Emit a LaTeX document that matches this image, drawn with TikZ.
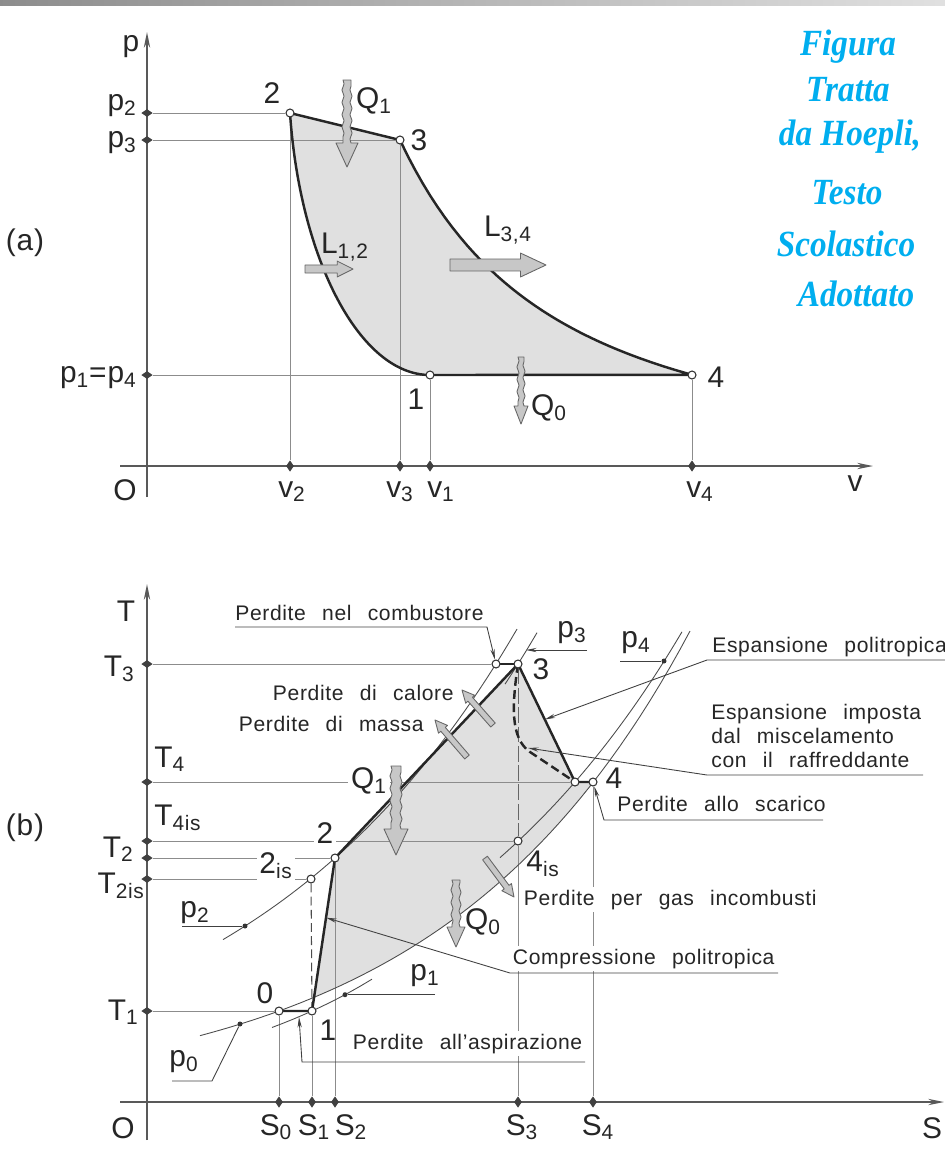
\documentclass[tikz,border=0pt]{standalone}
\usepackage{fontspec}
\setmainfont{Liberation Sans}[WordSpace=2.5,LetterSpace=3]
\newfontfamily\wmfont{Liberation Serif}[UprightFont=* Bold Italic, BoldFont=* Bold Italic, ItalicFont=* Bold Italic, BoldItalicFont=* Bold Italic, FakeStretch=0.9]
\usetikzlibrary{arrows.meta, calc, shapes.geometric, decorations.pathmorphing}
\definecolor{WmBlue}{HTML}{00AEEF}
\definecolor{AreaGray}{HTML}{E0E0E0}
\pgfdeclarelayer{back}
\pgfdeclarelayer{front}
\pgfsetlayers{back,main,front}
\newcommand{\ix}[1]{\textsubscript{#1}}
% block arrow: tail, tip, shaft half width, head half width, head length
\newcommand{\blockarr}[5]{%
  \coordinate (neck) at ($(#2)!#5!(#1)$);
  \draw[barrow] ($(#1)!#3!90:(#2)$) -- ($(neck)!#3!-90:(#1)$) -- ($(neck)!#4!-90:(#1)$)
    -- (#2) -- ($(neck)!#4!90:(#1)$) -- ($(neck)!#3!90:(#1)$) -- ($(#1)!#3!-90:(#2)$) -- cycle;}
% wavy heat arrow: x, y top, y tip, shaft half width, head half width, head length
\newcommand{\heatarr}[6]{%
  \draw[barrow] ({#1-#4},#2) decorate[decoration={snake,amplitude=0.6pt,segment length=7pt}]{-- ({#1-#4},{#3-#6})}
    -- ({#1-#5},{#3-#6}) -- (#1,#3) -- ({#1+#5},{#3-#6}) -- ({#1+#4},{#3-#6})
    decorate[decoration={snake,amplitude=0.6pt,segment length=7pt}]{-- ({#1+#4},#2)} -- cycle;}

\begin{document}
\begin{tikzpicture}[x=0.02cm, y=-0.02cm,
    axis/.style={draw=black!65, line width=0.8pt},
    thinline/.style={draw=black!45, line width=0.45pt},
    isobar/.style={draw=black!70, line width=0.5pt},
    thickline/.style={draw=black!85, line width=1.4pt, line join=round},
    thickdash/.style={draw=black!85, line width=1.4pt, dash pattern=on 5pt off 2.5pt},
    dashline/.style={draw=black!70, line width=0.6pt, dash pattern=on 5pt off 2.5pt},
    longdash/.style={draw=black!60, line width=0.5pt, dash pattern=on 9pt off 2pt},
    leader/.style={draw=black!75, line width=0.5pt, -{Stealth[length=6pt,width=2.4pt]}},
    plainleader/.style={draw=black!75, line width=0.5pt},
    barrow/.style={draw=black!60, fill=black!22, line width=0.5pt, line join=round},
    pt/.style={circle, draw=black!80, fill=white, line width=0.6pt, inner sep=0pt, minimum size=1.6mm},
    dot/.style={circle, fill=black!80, inner sep=0pt, minimum size=1mm},
    vmark/.style={diamond, fill=black!75, inner sep=0pt, minimum width=2.3mm, minimum height=1.6mm},
    hmark/.style={diamond, fill=black!75, inner sep=0pt, minimum width=1.6mm, minimum height=2.3mm},
    bigl/.style={font=\fontsize{17}{19}\selectfont, text=black!85, inner sep=0pt},
    note/.style={font=\fontsize{12}{13.5}\selectfont, text=black!85, inner sep=0pt},
    gap/.style={fill=white, inner sep=1.5pt},
    wm/.style={font=\wmfont\fontsize{21}{24}\selectfont, text=WmBlue, anchor=base}
  ]
  \useasboundingbox (0,0) rectangle (945,1171);
  \shade[left color=black!45, right color=black!12] (0,0) rectangle (945,5);

  % Nodes
  \begin{pgfonlayer}{front}
    % (a) p-v
    \node[pt] (a1) at (430,375) {};
    \node[pt] (a2) at (290,113) {};
    \node[pt] (a3) at (400,140) {};
    \node[pt] (a4) at (692,375) {};
    \node[vmark] (pa2) at (147,113) {};
    \node[vmark] (pa3) at (147,140) {};
    \node[vmark] (pa1) at (147,375) {};
    \node[hmark] (va2) at (290,466) {};
    \node[hmark] (va3) at (400,466) {};
    \node[hmark] (va1) at (430,466) {};
    \node[hmark] (va4) at (692,466) {};
    % (b) T-S
    \node[pt] (b0) at (279,1011) {};
    \node[pt] (b1) at (312,1011) {};
    \node[pt] (b2is) at (311,879) {};
    \node[pt] (b2) at (335,858) {};
    \node[pt] (b3p) at (496,664) {};
    \node[pt] (b3) at (518,664) {};
    \node[pt] (b4) at (575,782) {};
    \node[pt] (b4p) at (593,782) {};
    \node[pt] (b4is) at (518,841) {};
    \node[vmark] (t3) at (147,664) {};
    \node[vmark] (t4) at (147,782) {};
    \node[vmark] (t4is) at (147,841) {};
    \node[vmark] (t2) at (147,858) {};
    \node[vmark] (t2is) at (147,879) {};
    \node[vmark] (t1) at (147,1011) {};
    \node[hmark] (s0) at (279,1102) {};
    \node[hmark] (s1) at (312,1102) {};
    \node[hmark] (s2) at (335,1102) {};
    \node[hmark] (s3) at (518,1102) {};
    \node[hmark] (s4) at (593,1102) {};
  \end{pgfonlayer}

  \begin{pgfonlayer}{back}
    \fill[AreaGray] (a2.center) -- (a3.center)
      -- plot[domain=253:545, samples=40] ({147+\x},{466-326*(253/\x)^1.66})
      -- (a1.center) .. controls (360,375) and (300,260) .. (a2.center) -- cycle;
    \fill[AreaGray] (314.2,997) -- (b2.center) -- (b3.center) -- (b4.center) -- (b4p.center)
      -- plot[domain=593:314.2, samples=30] ({\x},{1102-91*exp((\x-279)/250)}) -- cycle;
  \end{pgfonlayer}

  % Axes
  \coordinate (pTop) at (147,32);
  \coordinate (pBot) at (147,497);
  \coordinate (vLeft) at (120,466);
  \coordinate (vEnd) at (873,466);
  \draw[axis, -{Stealth[length=9pt,width=3.6pt]}] (pBot) -- (pTop);
  \draw[axis, -{Stealth[length=9pt,width=3.6pt]}] (vLeft) -- (vEnd);
  \coordinate (tTop) at (147,584);
  \coordinate (tBot) at (147,1140);
  \coordinate (sLeft) at (120,1102);
  \coordinate (sEnd) at (944,1102);
  \draw[axis, -{Stealth[length=9pt,width=3.6pt]}] (tBot) -- (tTop);
  \draw[axis, -{Stealth[length=9pt,width=3.6pt]}] (sLeft) -- (sEnd);

  % Connectors (a)
  \draw[thinline] (pa2) -- (a2);
  \draw[thinline] (pa3) -- (a3);
  \draw[thinline] (pa1) -- (a1);
  \draw[thinline] (va2) -- (a2);
  \draw[thinline] (va3) -- (a3);
  \draw[thinline] (va1) -- (a1);
  \draw[thinline] (va4) -- (a4);
  \draw[thickline] (a2.center) -- (a3.center)
    -- plot[domain=253:545, samples=40] ({147+\x},{466-326*(253/\x)^1.66})
    -- (a1.center) .. controls (360,375) and (300,260) .. (a2.center);

  % Connectors (b)
  \draw[thinline] (t3) -- (b3p);
  \draw[thinline] (t4) -- (b4);
  \draw[thinline] (t4is) -- (b4is);
  \draw[thinline] (t2) -- (b2);
  \draw[thinline] (t2is) -- (b2is);
  \draw[thinline] (t1) -- (b0);
  \draw[thinline] (s0) -- (b0);
  \draw[thinline] (s1) -- (b1);
  \draw[thinline] (s2) -- (b2);
  \draw[thinline] (s3) -- (b4is);
  \draw[thinline] (s4) -- (b4p);
  \draw[longdash] (b3) -- (b4is);
  \draw[dashline] (b2is) -- (b1);
  % isobars
  \draw[isobar] plot[domain=223:517, samples=40] ({\x},{1102-244*exp((\x-335)/275)});
  \draw[isobar] plot[domain=505:537, samples=10] ({\x},{1102-438*exp((\x-518)/275)});
  \draw[isobar] plot[domain=500:682, samples=30] ({\x},{1102-320*exp((\x-575)/278)});
  \draw[isobar] plot[domain=200:690, samples=50] ({\x},{1102-91*exp((\x-279)/250)});
  \draw[isobar] plot[domain=272:372, samples=10] ({\x},{1102-91*exp((\x-312)/200)});
  % cycle
  \draw[thickline] (b0.center) -- (b1.center) -- (b2.center) -- (b3.center) -- (b4.center) -- (b4p.center);
  \draw[thickline] (b3p.center) -- (b3.center);
  \draw[thickdash] (b3.center) .. controls (512,705) and (510,738) .. (530,752) -- (b4.center);

  % Labels (a)
  \node[bigl] (lp) at (131,47) {p};
  \node[bigl, anchor=east] (lp2) at (137,106) {p\ix{2}};
  \node[bigl, anchor=east] (lp3) at (137,143) {p\ix{3}};
  \node[bigl, anchor=east] (lp14) at (137,378) {p\ix{1}=p\ix{4}};
  \node[bigl] (lO) at (125,490) {O};
  \node[bigl] (lv) at (855,484) {v};
  \node[bigl, anchor=north] (lv2) at (292,481) {v\ix{2}};
  \node[bigl, anchor=north] (lv3) at (400,481) {v\ix{3}};
  \node[bigl, anchor=north] (lv1) at (441,481) {v\ix{1}};
  \node[bigl, anchor=north] (lv4) at (700,481) {v\ix{4}};
  \node[bigl] (l2) at (272,93) {2};
  \node[bigl] (l3) at (419,140) {3};
  \node[bigl] (l1) at (416,399) {1};
  \node[bigl] (l4) at (716,377) {4};
  \node[bigl] (lq1) at (374,101) {Q\ix{1}};
  \node[bigl] (ll12) at (345,247) {L\ix{1,2}};
  \node[bigl] (ll34) at (508,230) {L\ix{3,4}};
  \node[bigl] (lq0) at (549,408) {Q\ix{0}};
  \node[bigl] (la) at (25,243) {(a)};
  \coordinate (l12t) at (305,269);
  \coordinate (l12h) at (353,269);
  \coordinate (l34t) at (450,265);
  \coordinate (l34h) at (546,265);
  \blockarr{l12t}{l12h}{2.3pt}{4.5pt}{9pt}
  \blockarr{l34t}{l34h}{3.4pt}{6.8pt}{14.5pt}
  \heatarr{347}{80}{167}{4}{11}{24}
  \heatarr{521}{357}{424}{3}{7}{18}

  % Labels (b)
  \node[bigl] (lT) at (126,611) {T};
  \node[bigl, anchor=east] (lT3) at (135,669) {T\ix{3}};
  \node[bigl, anchor=west] (lT4) at (154,759) {T\ix{4}};
  \node[bigl, anchor=west] (lT4is) at (154,818) {T\ix{4is}};
  \node[bigl, anchor=east] (lT2) at (134,849) {T\ix{2}};
  \node[bigl, anchor=east] (lT2is) at (145,886) {T\ix{2is}};
  \node[bigl, anchor=east] (lT1) at (139,1012) {T\ix{1}};
  \node[bigl] (lO2) at (123,1128) {O};
  \node[bigl] (lS) at (932,1128) {S};
  \node[bigl, anchor=north] (lS0) at (276,1114) {S\ix{0}};
  \node[bigl, anchor=north] (lS1) at (314,1114) {S\ix{1}};
  \node[bigl, anchor=north] (lS2) at (351,1114) {S\ix{2}};
  \node[bigl, anchor=north] (lS3) at (522,1114) {S\ix{3}};
  \node[bigl, anchor=north] (lS4) at (598,1114) {S\ix{4}};
  \node[bigl] (m0) at (265,993) {0};
  \node[bigl] (m1) at (328,1030) {1};
  \node[bigl, gap] (m2) at (325,833) {2};
  \node[bigl, gap] (m2is) at (276,866) {2\ix{is}};
  \node[bigl] (m3) at (541,669) {3};
  \node[bigl] (m4) at (614,778) {4};
  \node[bigl] (m4is) at (543,864) {4\ix{is}};
  \node[bigl, gap] (mq1) at (369,781) {Q\ix{1}};
  \node[bigl] (mq0) at (483,922) {Q\ix{0}};
  \node[bigl] (mp2) at (195,913) {p\ix{2}};
  \node[bigl] (mp3) at (572,633) {p\ix{3}};
  \node[bigl] (mp4) at (636,643) {p\ix{4}};
  \node[bigl] (mp1) at (425,976) {p\ix{1}};
  \node[bigl] (mp0) at (184,1062) {p\ix{0}};
  \node[bigl] (lb) at (25,828) {(b)};

  \node[note, anchor=base west] (ncomb) at (235,620) {Perdite nel combustore};
  \node[note, anchor=base east] (ncal) at (454,700) {Perdite di calore};
  \node[note, anchor=base east] (nmas) at (424,731) {Perdite di massa};
  \node[note, anchor=base west] (npol) at (712,652) {Espansione politropica};
  \node[note, anchor=north west, align=left] (nmix) at (711,704) {Espansione imposta\\dal miscelamento\\con il raffreddante};
  \node[note, anchor=base west] (nsca) at (617,811) {Perdite allo scarico};
  \node[note, gap, anchor=base west] (ngas) at (521,905) {Perdite per gas incombusti};
  \node[note, gap, anchor=base west] (ncom) at (510,964) {Compressione politropica};
  \node[note, gap, anchor=base west] (nasp) at (350,1049) {Perdite all’aspirazione};

  % dots on isobars
  \node[dot] (dp2) at (245,926) {};
  \node[dot] (dp4) at (664,661) {};
  \node[dot] (dp1) at (345,994.7) {};
  \node[dot] (dp0) at (240,1024) {};

  % Connectors (leaders)
  \coordinate (ucA) at (235,627);
  \coordinate (ucB) at (487,627);
  \draw[leader] (ucA) -- (ucB) -- (b3p);
  \coordinate (up3A) at (587,650);
  \coordinate (tipP3) at (526,650);
  \draw[leader] (up3A) -- (tipP3);
  \coordinate (upA) at (945,660);
  \coordinate (upB) at (707,660);
  \coordinate (tipE) at ($(b3)!0.47!(b4)$);
  \draw[leader] (upA) -- (upB) -- (tipE);
  \coordinate (umA) at (923,775);
  \coordinate (umB) at (707,775);
  \coordinate (tipM) at (528,748);
  \draw[leader] (umA) -- (umB) -- (tipM);
  \coordinate (usA) at (823,820);
  \coordinate (usB) at (604,820);
  \draw[leader] (usA) -- (usB) -- (b4p);
  \coordinate (ukA) at (778,973);
  \coordinate (ukB) at (510,973);
  \coordinate (tipK) at ($(b1)!0.61!(b2)$);
  \draw[leader] (ukA) -- (ukB) -- (tipK);
  \coordinate (uaA) at (585,1062);
  \coordinate (uaB) at (302,1062);
  \coordinate (tipA) at (299,1017);
  \draw[leader] (uaA) -- (uaB) -- (tipA);
  \coordinate (up2) at (182,926);
  \draw[plainleader] (up2) -- (dp2);
  \coordinate (up4) at (620,661);
  \draw[plainleader] (up4) -- (dp4);
  \coordinate (up1) at (435,994.7);
  \draw[plainleader] (up1) -- (dp1);
  \coordinate (up0A) at (172,1081);
  \coordinate (up0B) at (212,1081);
  \draw[plainleader] (up0A) -- (up0B) -- (dp0);

  % block arrows (b)
  \coordinate (calT) at (493,725);
  \coordinate (calH) at (462,690);
  \coordinate (masT) at (467,757);
  \coordinate (masH) at (435,720);
  \coordinate (gasT) at (485,858);
  \coordinate (gasH) at (514,897);
  \blockarr{calT}{calH}{1.7pt}{3.4pt}{7pt}
  \blockarr{masT}{masH}{1.7pt}{3.4pt}{7pt}
  \blockarr{gasT}{gasH}{1.7pt}{3.4pt}{7pt}
  \heatarr{396}{766}{855}{5}{12}{26}
  \heatarr{456}{880}{947}{4}{9}{20}

  % watermark
  \node[wm] (wm1) at (848,55) {Figura};
  \node[wm] (wm2) at (848,101) {Tratta};
  \node[wm] (wm3) at (850,145) {da Hoepli,};
  \node[wm] (wm4) at (847,204) {Testo};
  \node[wm] (wm5) at (846,256) {Scolastico};
  \node[wm] (wm6) at (856,306) {Adottato};
\end{tikzpicture}
\end{document}
